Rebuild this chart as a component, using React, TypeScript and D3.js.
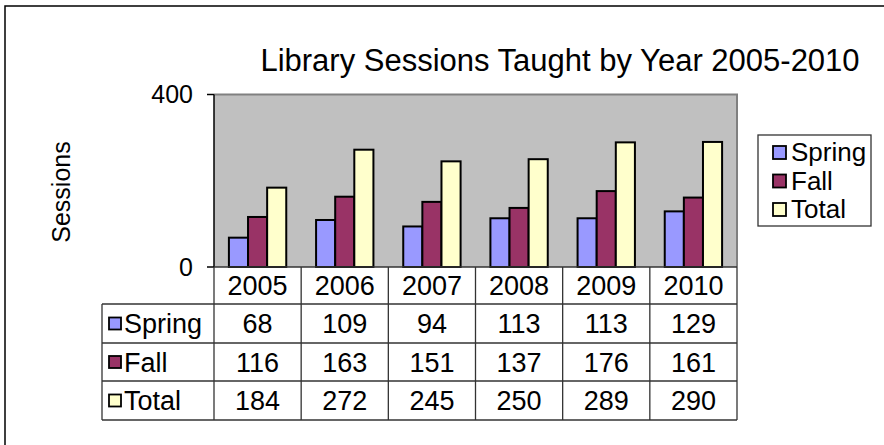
import { useEffect, useRef } from "react";
import { select, scaleBand, scaleLinear } from "d3";

const years = ["2005", "2006", "2007", "2008", "2009", "2010"];
const seriesNames = ["Spring", "Fall", "Total"];
const spring = [68, 109, 94, 113, 113, 129];
const fall = [116, 163, 151, 137, 176, 161];
const total = [184, 272, 245, 250, 289, 290];
const yTicks = [0, 400];
const colors = ["#9999FF", "#993366", "#FFFFCC"];

const FONT = "'Liberation Sans', Arial, sans-serif";

export default function App() {
    const ref = useRef<SVGSVGElement>(null);

    useEffect(() => {
        const svg = select(ref.current);
        svg.selectAll("*").remove();

        const values = [spring, fall, total];

        // plot geometry
        const left = 214;
        const right = 737;
        const top = 94.5;
        const bottom = 267;

        const x0 = scaleBand<string>().domain(years).range([left, right]);
        const x1 = scaleBand<string>()
            .domain(seriesNames)
            .range([0, x0.bandwidth()])
            .paddingInner(0)
            .paddingOuter(0.78);
        const y = scaleLinear().domain([0, 400]).range([bottom, top]);

        // outer frame
        svg.append("rect")
            .attr("x", 5)
            .attr("y", 6)
            .attr("width", 920)
            .attr("height", 480)
            .attr("fill", "white")
            .attr("stroke", "black")
            .attr("stroke-width", 1.5);

        // title
        svg.append("text")
            .attr("x", 560)
            .attr("y", 71)
            .attr("text-anchor", "middle")
            .attr("font-family", FONT)
            .attr("font-size", 31)
            .text("Library Sessions Taught by Year 2005-2010");

        // plot background
        svg.append("rect")
            .attr("x", left)
            .attr("y", top)
            .attr("width", right - left)
            .attr("height", bottom - top)
            .attr("fill", "#C0C0C0");
        svg.append("path")
            .attr("d", `M${left},${top}H${right}V${bottom}`)
            .attr("fill", "none")
            .attr("stroke", "#808080")
            .attr("stroke-width", 2);

        // bars
        const groups = svg.append("g")
            .selectAll("g")
            .data(years)
            .join("g")
            .attr("transform", (d) => `translate(${x0(d)},0)`);

        groups.selectAll("rect")
            .data((_, i) => seriesNames.map((s, k) => ({ s, v: values[k][i], c: colors[k] })))
            .join("rect")
            .attr("x", (d) => x1(d.s) as number)
            .attr("y", (d) => y(d.v))
            .attr("width", x1.bandwidth())
            .attr("height", (d) => bottom - y(d.v))
            .attr("fill", (d) => d.c)
            .attr("stroke", "black")
            .attr("stroke-width", 2);

        // y axis
        svg.append("line")
            .attr("x1", left).attr("x2", left)
            .attr("y1", top).attr("y2", bottom)
            .attr("stroke", "black").attr("stroke-width", 1.5);
        svg.selectAll(".ytick")
            .data(yTicks)
            .join("line")
            .attr("x1", left - 7).attr("x2", left)
            .attr("y1", (d) => y(d)).attr("y2", (d) => y(d))
            .attr("stroke", "black").attr("stroke-width", 1.5);
        svg.selectAll(".ylab")
            .data(yTicks)
            .join("text")
            .attr("x", 193)
            .attr("y", (d) => y(d))
            .attr("dy", "0.35em")
            .attr("text-anchor", "end")
            .attr("font-family", FONT)
            .attr("font-size", 25)
            .text((d) => d);

        svg.append("text")
            .attr("transform", "translate(70,192) rotate(-90)")
            .attr("text-anchor", "middle")
            .attr("font-family", FONT)
            .attr("font-size", 25)
            .text("Sessions");

        // data table
        const tableLeft = 102;
        const rowEdges = [bottom, 304, 343, 381, 420];
        const rowMid = (i: number) => (rowEdges[i] + rowEdges[i + 1]) / 2;
        const grid = svg.append("g").attr("stroke", "#333").attr("stroke-width", 1.3);
        rowEdges.forEach((ry, i) => {
            grid.append("line")
                .attr("x1", i === 0 ? left : tableLeft).attr("x2", right)
                .attr("y1", ry).attr("y2", ry);
        });
        grid.append("line")
            .attr("x1", tableLeft).attr("x2", tableLeft)
            .attr("y1", rowEdges[1]).attr("y2", rowEdges[4]);
        [...years.map((yr) => x0(yr) as number), right].forEach((cx) => {
            grid.append("line")
                .attr("x1", cx).attr("x2", cx)
                .attr("y1", bottom).attr("y2", rowEdges[4]);
        });

        // header
        svg.selectAll(".yr")
            .data(years)
            .join("text")
            .attr("x", (d) => (x0(d) as number) + x0.bandwidth() / 2)
            .attr("y", rowMid(0))
            .attr("dy", "0.36em")
            .attr("text-anchor", "middle")
            .attr("font-family", FONT)
            .attr("font-size", 27)
            .text((d) => d);

        seriesNames.forEach((s, k) => {
            const cy = rowMid(k + 1);
            svg.append("rect")
                .attr("x", 109).attr("y", cy - 6)
                .attr("width", 12).attr("height", 12)
                .attr("fill", colors[k])
                .attr("stroke", "black").attr("stroke-width", 1.8);
            svg.append("text")
                .attr("x", 124).attr("y", cy)
                .attr("dy", "0.36em")
                .attr("font-family", FONT)
                .attr("font-size", 27)
                .text(s);
            svg.selectAll(`.v${k}`)
                .data(values[k])
                .join("text")
                .attr("x", (_, i) => (x0(years[i]) as number) + x0.bandwidth() / 2)
                .attr("y", cy)
                .attr("dy", "0.36em")
                .attr("text-anchor", "middle")
                .attr("font-family", FONT)
                .attr("font-size", 27)
                .text((d) => d);
        });

        // legend
        const legend = svg.append("g");
        legend.append("rect")
            .attr("x", 758).attr("y", 135)
            .attr("width", 113).attr("height", 91)
            .attr("fill", "white")
            .attr("stroke", "#333").attr("stroke-width", 1.3);
        seriesNames.forEach((s, k) => {
            const cy = 152 + k * 28.5;
            legend.append("rect")
                .attr("x", 773).attr("y", cy - 6)
                .attr("width", 13).attr("height", 13)
                .attr("fill", colors[k])
                .attr("stroke", "black").attr("stroke-width", 1.8);
            legend.append("text")
                .attr("x", 791).attr("y", cy)
                .attr("dy", "0.36em")
                .attr("font-family", FONT)
                .attr("font-size", 26)
                .text(s);
        });
    }, []);

    return (
        <svg
            ref={ref}
            width={884}
            height={445}
            style={{ position: "absolute", left: 0, top: 0, display: "block" }}
        />
    );
}
